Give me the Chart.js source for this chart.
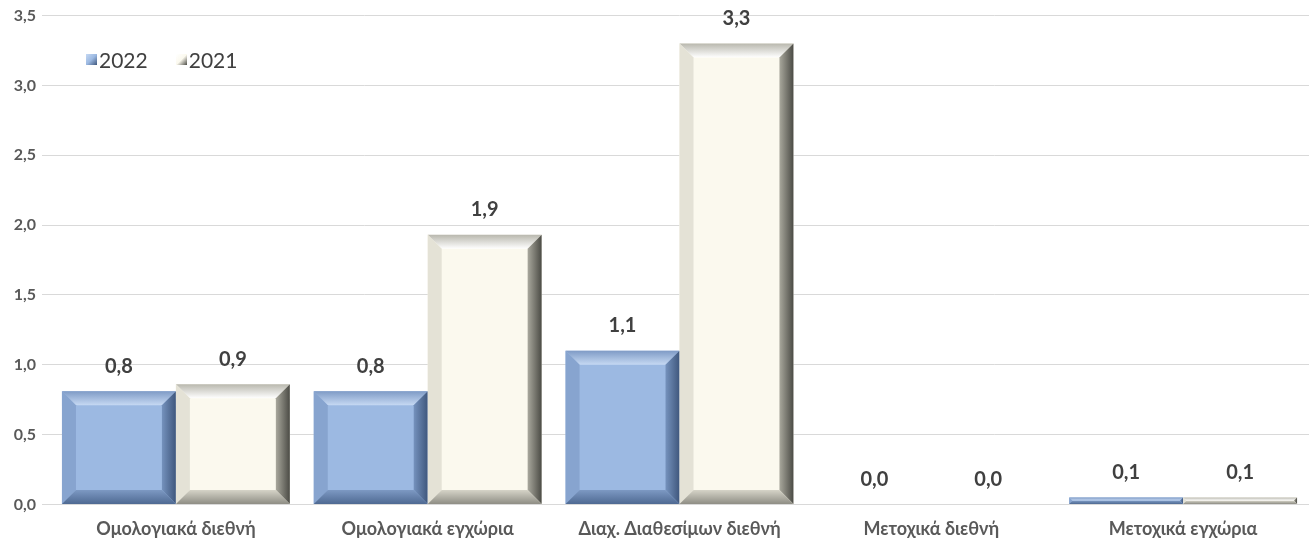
<!DOCTYPE html>
<html lang="el">
<head>
<meta charset="utf-8">
<title>Ομολογιακά / Μετοχικά</title>
<script src="https://cdn.jsdelivr.net/npm/chart.js@4/dist/chart.umd.min.js"></script>
<style>
  html, body { margin: 0; padding: 0; background: #fff; }
  #wrap { position: relative; width: 1309px; height: 547px; }
  #legend {
    position: absolute; left: 86px; top: 47px;
    display: flex; gap: 28px;
    font-family: Lato, "Open Sans", sans-serif; font-size: 21px; color: #404040;
  }
  #legend span { display: flex; align-items: center; }
  #legend i { display: inline-block; width: 11px; height: 11px; margin-right: 2px; }
</style>
</head>
<body>
<div id="wrap">
  <canvas id="chart" width="1309" height="547"></canvas>
  <div id="legend"></div>
</div>
<script>
const categories = [
  "Ομολογιακά διεθνή",
  "Ομολογιακά εγχώρια",
  "Διαχ. Διαθεσίμων διεθνή",
  "Μετοχικά διεθνή",
  "Μετοχικά εγχώρια",
];

const seriesLabels = ["2022", "2021"];
const values2022 = [0.81, 0.81, 1.10, 0.0, 0.05];
const values2021 = [0.86, 1.93, 3.30, 0.0, 0.05];
const yTicks = [0, 0.5, 1.0, 1.5, 2.0, 2.5, 3.0, 3.5];

// bevel colours per series: face, top, left, right, bottom
const bevel = [
  { face: "#9cb9e2", top: ["#7f9bc6", "#c6d9f3"], left: "#87a4cf", right: ["#3f577d", "#7592bd"], bottom: ["#4f6a93", "#7d99c3"] },
  { face: "#fbf9ee", top: ["#b9b8ae", "#ffffff"], left: "#e4e2d6", right: ["#4b4b45", "#a9a89d"], bottom: ["#8f8e85", "#d6d4c8"] },
];

function fmt(v) {
  return v.toFixed(1).replace(".", ",");
}

function poly(ctx, pts, fill) {
  ctx.beginPath();
  ctx.moveTo(pts[0][0], pts[0][1]);
  pts.slice(1).forEach((p) => ctx.lineTo(p[0], p[1]));
  ctx.closePath();
  ctx.fillStyle = fill;
  ctx.fill();
}

function grad(ctx, x0, y0, x1, y1, c) {
  const g = ctx.createLinearGradient(x0, y0, x1, y1);
  g.addColorStop(0, c[0]);
  g.addColorStop(1, c[1]);
  return g;
}

const bevelPlugin = {
  id: "bevel",
  afterDatasetsDraw(chart) {
    const ctx = chart.ctx;
    chart.data.datasets.forEach((ds, di) => {
      const c = bevel[di];
      chart.getDatasetMeta(di).data.forEach((bar) => {
        const { x, y, base, width } = bar.getProps(["x", "y", "base", "width"], true);
        const h = base - y;
        if (h < 1) return;
        const l = x - width / 2, r = x + width / 2, t = y, b = base;
        const s = Math.min(14, h / 2);
        ctx.save();
        poly(ctx, [[l, t], [r, t], [r - s, t + s], [l + s, t + s]], grad(ctx, 0, t, 0, t + s, c.top));
        poly(ctx, [[l, t], [l + s, t + s], [l + s, b - s], [l, b]], c.left);
        poly(ctx, [[r, t], [r, b], [r - s, b - s], [r - s, t + s]], grad(ctx, r, 0, r - s, 0, c.right));
        poly(ctx, [[l, b], [r, b], [r - s, b - s], [l + s, b - s]], grad(ctx, 0, b, 0, b - s, c.bottom));
        ctx.restore();
      });
    });
  },
};

const labelPlugin = {
  id: "valueLabels",
  afterDatasetsDraw(chart) {
    const ctx = chart.ctx;
    ctx.save();
    ctx.font = "bold 20px Lato, 'Open Sans', sans-serif";
    ctx.fillStyle = "#404040";
    ctx.textAlign = "center";
    ctx.textBaseline = "middle";
    chart.data.datasets.forEach((ds, di) => {
      chart.getDatasetMeta(di).data.forEach((bar, i) => {
        ctx.fillText(fmt(ds.data[i]), bar.x, bar.y - 25);
      });
    });
    ctx.restore();
  },
};

const datasets = [values2022, values2021].map((data, i) => ({
  label: seriesLabels[i],
  data,
  backgroundColor: bevel[i].face,
  borderWidth: 0,
  categoryPercentage: 0.905,
  barPercentage: 1.0,
}));

document.getElementById("legend").innerHTML = seriesLabels
  .map((name, i) => `<span><i style="background:linear-gradient(135deg, ${bevel[i].top[1]}, ${bevel[i].face} 50%, ${bevel[i].right[0]})"></i>${name}</span>`)
  .join("");

new Chart(document.getElementById("chart"), {
  type: "bar",
  data: { labels: categories, datasets },
  plugins: [bevelPlugin, labelPlugin],
  options: {
    responsive: false,
    animation: false,
    layout: { padding: { top: 11, right: 0, left: 0, bottom: 1 } },
    plugins: { legend: { display: false }, tooltip: { enabled: false } },
    scales: {
      x: {
        grid: { display: false },
        border: { color: "#d9d9d9" },
        ticks: {
          color: "#595959",
          font: { family: "Lato, 'Open Sans', sans-serif", size: 18, weight: "bold" },
          padding: 6,
        },
      },
      y: {
        min: 0,
        max: 3.5,
        afterBuildTicks: (axis) => { axis.ticks = yTicks.map((v) => ({ value: v })); },
        afterFit: (axis) => { axis.width = 50; },
        grid: { color: "#d9d9d9", tickLength: 8 },
        border: { display: false },
        ticks: {
          color: "#595959",
          font: { family: "Lato, 'Open Sans', sans-serif", size: 16, weight: "bold" },
          padding: 6,
          callback: (v) => fmt(v),
        },
      },
    },
  },
});
</script>
</body>
</html>
